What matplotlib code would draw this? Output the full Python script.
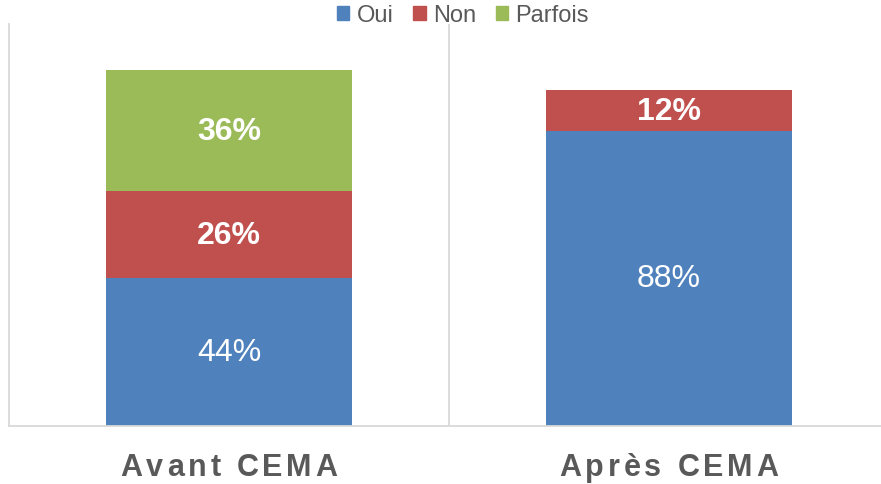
import matplotlib
matplotlib.use("Agg")
import matplotlib.pyplot as plt
from matplotlib.patches import Patch
from matplotlib import font_manager
from matplotlib.ft2font import FT2Font
import numpy as np

categories = ["Avant CEMA", "Après CEMA"]
series_names = ["Oui", "Non", "Parfois"]
oui = [44, 88]
non = [26, 12]
parfois = [36, 0]
colors = ["#4F81BD", "#C0504D", "#9BBB59"]

plt.rcParams['font.family'] = ['Liberation Sans', 'DejaVu Sans']

W, H = 881, 485
fig = plt.figure(figsize=(W / 100, H / 100), dpi=100)
left, right, bottom, top = 9, 889, 426.5, 24.5
ax = fig.add_axes([left / W, 1 - bottom / H, (right - left) / W, (bottom - top) / H])

x = np.arange(len(categories))
width = 0.56
values = [oui, non, parfois]
base = np.zeros(len(categories))
bold_flags = [False, True, True]
for vals, col, name, bold in zip(values, colors, series_names, bold_flags):
    vals = np.array(vals, dtype=float)
    ax.bar(x, vals, width, bottom=base, color=col, label=name, linewidth=0, zorder=2)
    for xi, v, b in zip(x, vals, base):
        if v > 0:
            ax.text(xi, b + v / 2, f"{int(v)}%", ha='center', va='center',
                    color='white', fontsize=23, fontweight='bold' if bold else 'normal', zorder=3)
    base = base + vals

ax.set_xlim(-0.5, 1.5)
ax.set_ylim(0, 120)
ax.set_xticks([])
ax.set_yticks([])
for s in ['top', 'right']:
    ax.spines[s].set_visible(False)
for s in ['left', 'bottom']:
    ax.spines[s].set_color('#D9D9D9')
    ax.spines[s].set_linewidth(1.3)
ax.axvline(0.5, color='#D9D9D9', lw=1.3, zorder=1)

# Category labels with letter spacing
fpath = font_manager.findfont(font_manager.FontProperties(family='Liberation Sans', weight='bold'))
fsize = 22
ft = FT2Font(fpath)
ft.set_size(fsize, 100)
spacing = 3.8
for xi, label in zip(x, categories):
    adv = []
    for c in label:
        g = ft.load_char(ord(c))
        adv.append(g.linearHoriAdvance / 65536.0)
    total = sum(adv) + spacing * (len(label) - 1)
    cx = ax.transData.transform((xi, 0))[0]
    pos = cx - total / 2
    for c, a in zip(label, adv):
        fig.text(pos / W, 1 - 476 / H, c, ha='left', va='baseline', fontsize=fsize,
                 fontweight='bold', color='#595959')
        pos += a + spacing

handles = [Patch(color=c, label=n) for c, n in zip(colors, series_names)]
fig.legend(handles=handles, loc='center', bbox_to_anchor=(463 / W, 1 - 16 / H), ncol=3,
           frameon=False, fontsize=17, handlelength=0.52, handleheight=0.52,
           handletextpad=0.3, columnspacing=0.85, labelcolor='#595959', borderaxespad=0, borderpad=0)

fig.savefig("out.png", dpi=100)
